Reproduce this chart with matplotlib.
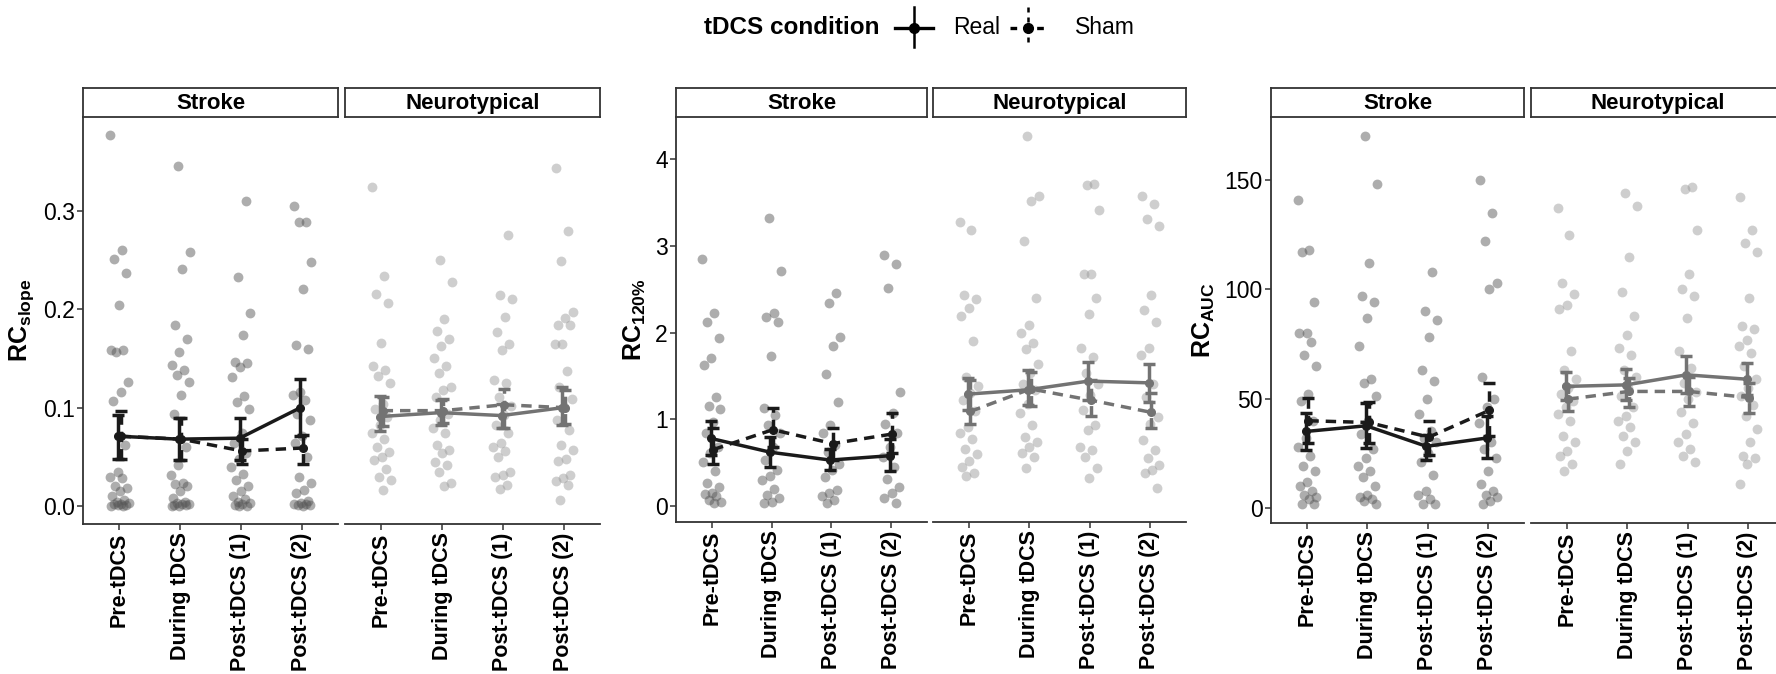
import numpy as np
import matplotlib
matplotlib.use("Agg")
import matplotlib.pyplot as plt
from matplotlib.lines import Line2D

plt.rcParams['font.family'] = ['Liberation Sans', 'DejaVu Sans']
plt.rcParams['mathtext.fontset'] = 'custom'
plt.rcParams['mathtext.rm'] = 'Liberation Sans'
plt.rcParams['mathtext.bf'] = 'Liberation Sans:bold'

W, H = 1776, 674

times = ["Pre-tDCS", "During tDCS", "Post-tDCS (1)", "Post-tDCS (2)"]
groups = ["Stroke", "Neurotypical"]

# ---- RC slope ----
slope_stroke_pts = [
    [0.377, 0.260, 0.251, 0.237, 0.204, 0.159, 0.159, 0.157, 0.126, 0.116, 0.107, 0.062, 0.035, 0.030,
     0.028, 0.020, 0.018, 0.015, 0.010, 0.006, 0.004, 0.003, 0.002, 0.002, 0.001, 0.001, 0.000, 0.000],
    [0.346, 0.258, 0.241, 0.184, 0.170, 0.157, 0.143, 0.138, 0.133, 0.126, 0.113, 0.094, 0.060, 0.042,
     0.032, 0.023, 0.022, 0.020, 0.015, 0.008, 0.004, 0.003, 0.002, 0.002, 0.001, 0.001, 0.000, 0.000],
    [0.310, 0.233, 0.196, 0.174, 0.146, 0.145, 0.141, 0.131, 0.112, 0.106, 0.099, 0.074, 0.064, 0.054,
     0.048, 0.040, 0.033, 0.026, 0.020, 0.015, 0.010, 0.007, 0.004, 0.003, 0.002, 0.001, 0.000, 0.000],
    [0.305, 0.289, 0.289, 0.248, 0.221, 0.164, 0.160, 0.116, 0.113, 0.108, 0.094, 0.087, 0.071, 0.064,
     0.050, 0.030, 0.023, 0.016, 0.013, 0.005, 0.003, 0.002, 0.002, 0.001, 0.001, 0.000],
]
slope_neuro_pts = [
    [0.324, 0.234, 0.216, 0.206, 0.166, 0.142, 0.138, 0.132, 0.125, 0.104, 0.099, 0.091, 0.082, 0.074,
     0.068, 0.060, 0.055, 0.050, 0.047, 0.038, 0.030, 0.026, 0.016],
    [0.250, 0.228, 0.190, 0.178, 0.170, 0.163, 0.151, 0.142, 0.135, 0.121, 0.118, 0.111, 0.094, 0.087,
     0.079, 0.074, 0.062, 0.057, 0.054, 0.045, 0.042, 0.035, 0.023, 0.020],
    [0.276, 0.215, 0.211, 0.192, 0.177, 0.165, 0.159, 0.128, 0.125, 0.111, 0.102, 0.093, 0.082, 0.074,
     0.064, 0.060, 0.056, 0.050, 0.035, 0.032, 0.030, 0.021, 0.017],
    [0.344, 0.280, 0.249, 0.197, 0.191, 0.184, 0.184, 0.165, 0.165, 0.137, 0.121, 0.109, 0.101, 0.087,
     0.077, 0.062, 0.057, 0.048, 0.046, 0.032, 0.028, 0.025, 0.021, 0.006],
]
slope_stroke_real = [0.071, 0.068, 0.069, 0.100]
slope_stroke_real_lo = [0.048, 0.047, 0.047, 0.071]
slope_stroke_real_hi = [0.093, 0.090, 0.090, 0.129]
slope_stroke_sham = [0.071, 0.068, 0.056, 0.059]
slope_stroke_sham_lo = [0.048, 0.047, 0.043, 0.043]
slope_stroke_sham_hi = [0.097, 0.090, 0.068, 0.072]
slope_neuro_real = [0.091, 0.095, 0.092, 0.100]
slope_neuro_real_lo = [0.076, 0.082, 0.079, 0.082]
slope_neuro_real_hi = [0.112, 0.108, 0.104, 0.121]
slope_neuro_sham = [0.097, 0.097, 0.103, 0.100]
slope_neuro_sham_lo = [0.081, 0.084, 0.079, 0.083]
slope_neuro_sham_hi = [0.111, 0.109, 0.119, 0.118]

# ---- RC 120% ----
rc120_stroke_pts = [
    [2.85, 2.22, 2.12, 1.94, 1.71, 1.63, 1.26, 1.15, 1.12, 0.97, 0.84, 0.68, 0.61, 0.51, 0.40, 0.26,
     0.22, 0.15, 0.14, 0.11, 0.07, 0.05, 0.04],
    [3.32, 2.71, 2.22, 2.18, 2.12, 1.73, 1.13, 1.05, 0.93, 0.84, 0.68, 0.53, 0.42, 0.35, 0.30, 0.20,
     0.13, 0.09, 0.05, 0.04],
    [2.45, 2.34, 1.95, 1.84, 1.52, 1.20, 0.93, 0.84, 0.70, 0.62, 0.49, 0.42, 0.34, 0.18, 0.15, 0.11,
     0.07, 0.03],
    [2.89, 2.79, 2.51, 1.31, 1.07, 0.95, 0.84, 0.68, 0.57, 0.45, 0.31, 0.22, 0.15, 0.09, 0.03],
]
rc120_neuro_pts = [
    [3.27, 3.18, 2.43, 2.39, 2.28, 2.19, 1.90, 1.49, 1.38, 1.30, 1.22, 1.09, 0.91, 0.84, 0.77, 0.66,
     0.60, 0.52, 0.45, 0.38, 0.35],
    [4.27, 3.57, 3.52, 3.06, 2.40, 2.09, 2.00, 1.88, 1.81, 1.64, 1.53, 1.41, 1.34, 1.18, 1.07, 0.93,
     0.80, 0.74, 0.68, 0.61, 0.57, 0.44],
    [3.71, 3.70, 3.41, 2.67, 2.67, 2.40, 2.21, 1.82, 1.72, 1.53, 1.41, 1.28, 1.11, 0.93, 0.88, 0.68,
     0.65, 0.57, 0.44, 0.32],
    [3.57, 3.48, 3.31, 3.23, 2.43, 2.26, 2.12, 1.82, 1.74, 1.41, 1.26, 1.03, 0.95, 0.76, 0.65, 0.55,
     0.47, 0.41, 0.38, 0.21],
]
rc120_stroke_real = [0.78, 0.62, 0.53, 0.58]
rc120_stroke_real_lo = [0.59, 0.45, 0.41, 0.40]
rc120_stroke_real_hi = [0.98, 0.79, 0.66, 0.77]
rc120_stroke_sham = [0.65, 0.88, 0.72, 0.83]
rc120_stroke_sham_lo = [0.49, 0.68, 0.53, 0.61]
rc120_stroke_sham_hi = [0.90, 1.13, 0.90, 1.07]
rc120_neuro_real = [1.29, 1.34, 1.44, 1.42]
rc120_neuro_real_lo = [1.11, 1.16, 1.22, 1.20]
rc120_neuro_real_hi = [1.47, 1.57, 1.66, 1.64]
rc120_neuro_sham = [1.09, 1.35, 1.22, 1.08]
rc120_neuro_sham_lo = [0.95, 1.15, 1.04, 0.90]
rc120_neuro_sham_hi = [1.45, 1.55, 1.45, 1.30]

# ---- RC AUC ----
auc_stroke_pts = [
    [141, 118, 117, 94, 80, 80, 76, 70, 65, 52, 49, 40, 32, 28, 24, 19, 17, 12, 10, 8, 6, 5, 4, 2, 2],
    [170, 148, 112, 97, 94, 87, 74, 59, 57, 51, 40, 34, 27, 23, 19, 17, 14, 10, 6, 5, 4, 3, 2],
    [108, 90, 86, 78, 63, 58, 50, 43, 35, 32, 30, 25, 21, 15, 8, 6, 4, 2, 2],
    [150, 135, 122, 103, 100, 60, 50, 46, 39, 30, 27, 23, 17, 11, 8, 6, 5, 3, 2],
]
auc_neuro_pts = [
    [137, 125, 103, 98, 93, 91, 72, 63, 59, 55, 52, 49, 46, 43, 40, 33, 30, 26, 24, 20, 17],
    [144, 138, 115, 99, 88, 79, 73, 70, 63, 60, 55, 51, 46, 42, 40, 37, 33, 30, 26, 20],
    [147, 146, 127, 107, 100, 97, 87, 72, 64, 57, 53, 50, 44, 39, 34, 30, 27, 24, 21],
    [142, 127, 121, 117, 96, 83, 82, 77, 74, 71, 65, 59, 55, 51, 47, 42, 36, 30, 24, 23, 20, 11],
]
auc_stroke_real = [35.0, 37.6, 28.2, 32.0]
auc_stroke_real_lo = [26.6, 27.4, 21.8, 22.8]
auc_stroke_real_hi = [43.4, 48.0, 33.5, 41.9]
auc_stroke_sham = [39.9, 39.1, 32.4, 44.6]
auc_stroke_sham_lo = [29.7, 29.7, 24.4, 32.7]
auc_stroke_sham_hi = [50.2, 48.7, 39.6, 57.0]
auc_neuro_real = [55.6, 56.3, 60.9, 58.9]
auc_neuro_real_lo = [49.5, 49.5, 52.5, 51.8]
auc_neuro_real_hi = [62.4, 63.5, 69.3, 66.2]
auc_neuro_sham = [49.8, 53.3, 53.3, 50.5]
auc_neuro_sham_lo = [44.2, 46.4, 46.7, 43.4]
auc_neuro_sham_hi = [55.6, 59.4, 60.0, 57.0]

ylabels = [r"$\mathbf{RC}_{\mathbf{slope}}$", r"$\mathbf{RC}_{\mathbf{120\%}}$", r"$\mathbf{RC}_{\mathbf{AUC}}$"]
yticks = [[0.0, 0.1, 0.2, 0.3], [0, 1, 2, 3, 4], [0, 50, 100, 150]]
yticklabels = [["0.0", "0.1", "0.2", "0.3"], ["0", "1", "2", "3", "4"], ["0", "50", "100", "150"]]
ylims = [(-0.0183, 0.3957), (-0.184, 4.484), (-6.86, 178.8)]

panels = [
    (slope_stroke_pts, slope_neuro_pts,
     (slope_stroke_real, slope_stroke_real_lo, slope_stroke_real_hi),
     (slope_stroke_sham, slope_stroke_sham_lo, slope_stroke_sham_hi),
     (slope_neuro_real, slope_neuro_real_lo, slope_neuro_real_hi),
     (slope_neuro_sham, slope_neuro_sham_lo, slope_neuro_sham_hi)),
    (rc120_stroke_pts, rc120_neuro_pts,
     (rc120_stroke_real, rc120_stroke_real_lo, rc120_stroke_real_hi),
     (rc120_stroke_sham, rc120_stroke_sham_lo, rc120_stroke_sham_hi),
     (rc120_neuro_real, rc120_neuro_real_lo, rc120_neuro_real_hi),
     (rc120_neuro_sham, rc120_neuro_sham_lo, rc120_neuro_sham_hi)),
    (auc_stroke_pts, auc_neuro_pts,
     (auc_stroke_real, auc_stroke_real_lo, auc_stroke_real_hi),
     (auc_stroke_sham, auc_stroke_sham_lo, auc_stroke_sham_hi),
     (auc_neuro_real, auc_neuro_real_lo, auc_neuro_real_hi),
     (auc_neuro_sham, auc_neuro_sham_lo, auc_neuro_sham_hi)),
]

# layout in pixels: (stroke left, stroke right, neuro left, neuro right, axis bottom)
boxes = [(83, 338, 345, 600, 524), (676, 927, 933, 1186, 522), (1271, 1524, 1531, 1784, 523)]
strip_top, ax_top = 88, 117

edge = '#333333'
stroke_line, neuro_line = '#1a1a1a', '#737373'
stroke_pt, neuro_pt = '#555555', '#9a9a9a'

fig = plt.figure(figsize=(W / 100, H / 100), dpi=100)


def frac(x0, x1, y0, y1):
    return [x0 / W, 1 - y1 / H, (x1 - x0) / W, (y1 - y0) / H]


def draw_facet(ax, pts, real, sham, pcol, lcol):
    x = np.arange(len(times))
    for k, col in enumerate(pts):
        n = len(col)
        off = ((np.arange(n) * 0.618034 + k * 0.37) % 1 - 0.5) * 0.32
        ax.scatter(x[k] + off, col, s=50, color=pcol, alpha=0.48, linewidths=0, zorder=2)
    for (m, lo, hi), ls, dx in [(sham, (0, (3, 2)), 0.02), (real, 'solid', -0.02)]:
        m, lo, hi = np.array(m), np.array(lo), np.array(hi)
        eb = ax.errorbar(x + dx, m, yerr=[m - lo, hi - m], color=lcol, lw=2.5, elinewidth=2.5,
                         capsize=4.5, capthick=2.5, marker='o', ms=5.5, zorder=3)
        eb[0].set_linestyle(ls)
        eb[2][0].set_linestyle(ls)


for i, (spts, npts, sreal, ssham, nreal, nsham) in enumerate(panels):
    sl, sr, nl, nr, bot = boxes[i]
    for g, (l, r) in enumerate([(sl, sr), (nl, nr)]):
        ax = fig.add_axes(frac(l, r, ax_top, bot))
        if g == 0:
            draw_facet(ax, spts, sreal, ssham, stroke_pt, stroke_line)
        else:
            draw_facet(ax, npts, nreal, nsham, neuro_pt, neuro_line)
        ax.set_xlim(-0.6, 3.6)
        ax.set_ylim(*ylims[i])
        ax.spines[['top', 'right']].set_visible(False)
        for s in ['left', 'bottom']:
            ax.spines[s].set_color(edge)
            ax.spines[s].set_linewidth(1.3)
        ax.set_xticks(range(len(times)))
        ax.set_xticklabels(times, rotation=90, fontweight='bold', fontsize=15.5)
        ax.set_yticks(yticks[i])
        ax.set_yticklabels(yticklabels[i], fontsize=16.5)
        ax.tick_params(length=4, width=1.1, color=edge, pad=2)
        if g == 1:
            ax.spines['left'].set_visible(False)
            ax.tick_params(axis='y', left=False, labelleft=False)
        else:
            ax.set_ylabel(ylabels[i], fontsize=18, labelpad=5)

        sax = fig.add_axes(frac(l, r, strip_top, ax_top))
        sax.set_xticks([])
        sax.set_yticks([])
        for s in sax.spines.values():
            s.set_color(edge)
            s.set_linewidth(1.3)
        sax.text(0.5, 0.45, groups[g], ha='center', va='center', fontsize=16, fontweight='bold',
                 transform=sax.transAxes)

# legend
ly = 1 - 28 / H
fig.text(704 / W, ly, "tDCS condition", fontsize=17.5, fontweight='bold', ha='left', va='center')
for cx, x0, x1, ls, label, tx in [(914, 895, 933, 'solid', "Real", 953),
                                  (1028, 1010, 1047, (0, (2, 2)), "Sham", 1075)]:
    fig.add_artist(Line2D([x0 / W, x1 / W], [ly, ly], color='black', lw=2.4, linestyle=ls))
    fig.add_artist(Line2D([cx / W, cx / W], [1 - 7 / H, 1 - 47 / H], color='black', lw=1.8, linestyle=ls))
    fig.add_artist(Line2D([cx / W], [ly], color='black', marker='o', ms=7))
    fig.text(tx / W, ly, label, fontsize=16.5, ha='left', va='center')

fig.savefig("out.png", dpi=100)
